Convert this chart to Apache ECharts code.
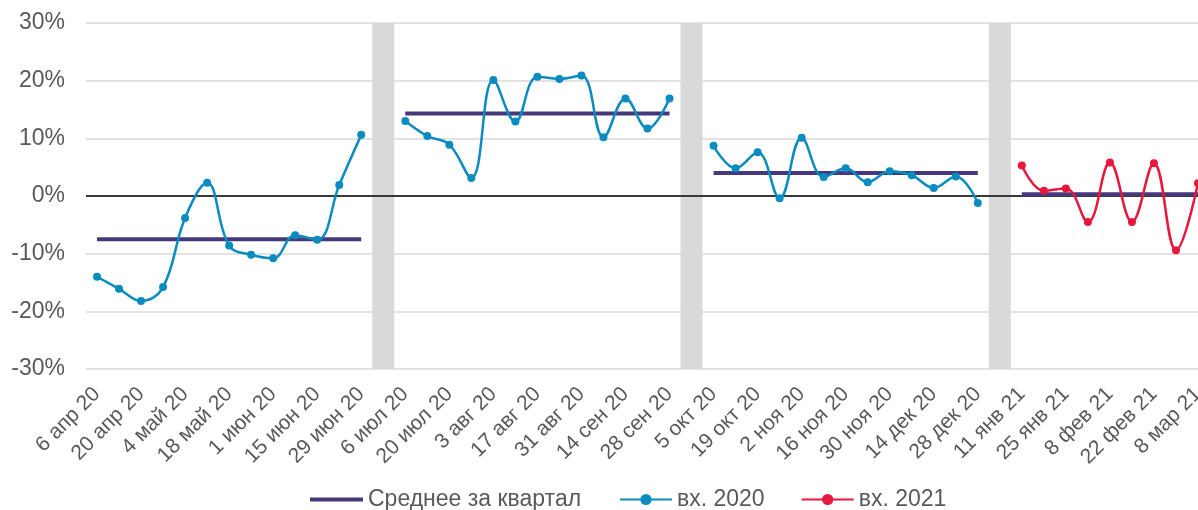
<!DOCTYPE html>
<html>
<head>
<meta charset="utf-8">
<script src="https://cdn.jsdelivr.net/npm/echarts@6/dist/echarts.min.js"></script>
<style>
  html, body { margin: 0; padding: 0; overflow: hidden; background: #fff; }
  #chart { width: 1220px; height: 510px; }
</style>
</head>
<body>
<div id="chart"></div>
<script>
// недели, пустая категория = серая полоса между кварталами
var weeks = [
  '6 апр 20', '13 апр 20', '20 апр 20', '27 апр 20', '4 май 20', '11 май 20', '18 май 20',
  '25 май 20', '1 июн 20', '8 июн 20', '15 июн 20', '22 июн 20', '29 июн 20', '',
  '6 июл 20', '13 июл 20', '20 июл 20', '27 июл 20', '3 авг 20', '10 авг 20', '17 авг 20',
  '24 авг 20', '31 авг 20', '7 сен 20', '14 сен 20', '21 сен 20', '28 сен 20', '',
  '5 окт 20', '12 окт 20', '19 окт 20', '26 окт 20', '2 ноя 20', '9 ноя 20', '16 ноя 20',
  '23 ноя 20', '30 ноя 20', '7 дек 20', '14 дек 20', '21 дек 20', '28 дек 20', '',
  '11 янв 21', '18 янв 21', '25 янв 21', '1 фев 21', '8 фев 21', '15 фев 21', '22 фев 21',
  '1 мар 21', '8 мар 21'
];

// вх. по кварталам, %
var q2 = [-14.0, -16.1, -18.2, -15.8, -3.8, 2.3, -8.6, -10.2, -10.8, -6.8, -7.6, 1.9, 10.6];
var q3 = [13.0, 10.4, 8.9, 3.1, 20.1, 12.9, 20.7, 20.3, 20.9, 10.2, 16.9, 11.7, 16.9];
var q4 = [8.7, 4.8, 7.6, -0.4, 10.1, 3.3, 4.8, 2.4, 4.3, 3.6, 1.4, 3.4, -1.2];
var q1 = [5.3, 0.9, 1.3, -4.5, 5.8, -4.5, 5.7, -9.4, 2.2];

// среднее за квартал
var quarterAvg = [-7.5, 14.3, 4.0, 0.3];

var yTicks = { min: -30, max: 30, step: 10 };

var quarterStart = [0, 14, 28, 42];
var gapIdx = [13, 27, 41];

function place(values, start) {
  var arr = weeks.map(function () { return null; });
  values.forEach(function (v, i) { arr[start + i] = v; });
  return arr;
}

var vx2020 = weeks.map(function () { return null; });
[q2, q3, q4].forEach(function (q, k) {
  q.forEach(function (v, i) { vx2020[quarterStart[k] + i] = v; });
});
var vx2021 = place(q1, quarterStart[3]);

var avgLine = weeks.map(function () { return null; });
[q2, q3, q4, q1].forEach(function (q, k) {
  q.forEach(function (v, i) { avgLine[quarterStart[k] + i] = quarterAvg[k]; });
});

var gapUp = weeks.map(function (w, i) { return gapIdx.indexOf(i) >= 0 ? yTicks.max : null; });
var gapDown = weeks.map(function (w, i) { return gapIdx.indexOf(i) >= 0 ? yTicks.min : null; });

var chart = echarts.init(document.getElementById('chart'));
var font = 'Liberation Sans, Arial, sans-serif';
var legendText = { fontSize: 23, color: '#595959', fontFamily: font };

var option = {
  animation: false,
  textStyle: { fontFamily: font },
  grid: { left: 86, right: 11, top: 23, bottom: 141 },
  legend: [{
    data: [{ name: 'Среднее за квартал', icon: 'rect' }],
    left: 305, top: 483,
    itemWidth: 53, itemHeight: 4,
    textStyle: legendText
  }, {
    data: ['вх. 2020', 'вх. 2021'],
    left: 614, top: 483,
    itemWidth: 52, itemHeight: 14, itemGap: 36,
    textStyle: legendText
  }],
  xAxis: {
    type: 'category',
    data: weeks,
    boundaryGap: true,
    axisLine: { show: false },
    axisTick: { show: false },
    axisLabel: {
      interval: 1,
      rotate: 45,
      margin: 22,
      fontSize: 21,
      color: '#595959',
      fontFamily: font
    }
  },
  yAxis: {
    type: 'value',
    min: yTicks.min,
    max: yTicks.max,
    interval: yTicks.step,
    axisLine: { show: false },
    axisTick: { show: false },
    axisLabel: {
      formatter: '{value}%',
      fontSize: 23,
      margin: 21,
      color: '#595959',
      fontFamily: font
    },
    splitLine: { lineStyle: { color: '#d9d9d9', width: 1.5 } }
  },
  series: [
    {
      name: 'gapUp',
      type: 'bar',
      stack: 'gap',
      barWidth: '100%',
      data: gapUp,
      itemStyle: { color: '#d9d9d9' },
      silent: true,
      z: 1,
      markLine: {
        silent: true,
        symbol: 'none',
        z: 2,
        label: { show: false },
        lineStyle: { color: '#000', width: 1.5, type: 'solid' },
        data: [{ yAxis: 0 }]
      }
    },
    {
      name: 'gapDown',
      type: 'bar',
      stack: 'gap',
      barWidth: '100%',
      data: gapDown,
      itemStyle: { color: '#d9d9d9' },
      silent: true,
      z: 1
    },
    {
      name: 'Среднее за квартал',
      type: 'line',
      data: avgLine,
      symbol: 'none',
      connectNulls: false,
      lineStyle: { color: '#46397b', width: 4 },
      itemStyle: { color: '#46397b' },
      z: 3
    },
    {
      name: 'вх. 2020',
      type: 'line',
      data: vx2020,
      smooth: 0.4,
      connectNulls: false,
      symbol: 'circle',
      symbolSize: 8,
      lineStyle: { color: '#0b8bbf', width: 2.5 },
      itemStyle: { color: '#0b8bbf' },
      z: 4
    },
    {
      name: 'вх. 2021',
      type: 'line',
      data: vx2021,
      smooth: 0.4,
      connectNulls: false,
      symbol: 'circle',
      symbolSize: 8,
      lineStyle: { color: '#e8173c', width: 2.5 },
      itemStyle: { color: '#e8173c' },
      z: 4
    }
  ]
};

chart.setOption(option);
</script>
</body>
</html>
